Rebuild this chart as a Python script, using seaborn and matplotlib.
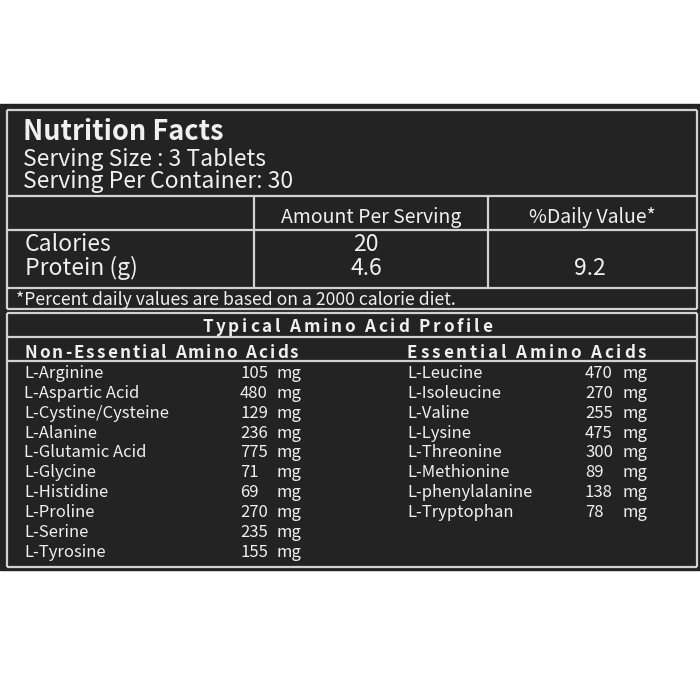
import numpy as np
import pandas as pd
import matplotlib
matplotlib.use("Agg")
import matplotlib.pyplot as plt
import seaborn as sns

# label contents
title = "Nutrition Facts"
serving_size = "Serving Size : 3 Tablets"
serving_per = "Serving Per Container: 30"
col_headers = ["Amount Per Serving", "%Daily Value*"]
nutrients = ["Calories", "Protein (g)"]
amounts = ["20", "4.6"]
daily_values = ["", "9.2"]
footnote = "*Percent daily values are based on a 2000 calorie diet."
profile_title = "Typical Amino Acid Profile"

nonessential_names = ["L-Arginine", "L-Aspartic Acid", "L-Cystine/Cysteine", "L-Alanine",
                      "L-Glutamic Acid", "L-Glycine", "L-Histidine", "L-Proline",
                      "L-Serine", "L-Tyrosine"]
nonessential_mg = [105, 480, 129, 236, 775, 71, 69, 270, 235, 155]
essential_names = ["L-Leucine", "L-Isoleucine", "L-Valine", "L-Lysine", "L-Threonine",
                   "L-Methionine", "L-phenylalanine", "L-Tryptophan"]
essential_mg = [470, 270, 255, 475, 300, 89, 138, 78]

nonessential = pd.DataFrame({"name": nonessential_names, "mg": nonessential_mg})
essential = pd.DataFrame({"name": essential_names, "mg": essential_mg})

sns.set_theme(style="white")
plt.rcParams["font.family"] = ["Noto Sans CJK SC", "DejaVu Sans"]

bg = "#232323"
fg = "#f0f0f0"
line_c = "#d2d2d2"

fig = plt.figure(figsize=(7, 7), dpi=100)
ax = fig.add_axes([0, 0, 1, 1])
ax.set_xlim(0, 700)
ax.set_ylim(700, 0)
ax.axis("off")
fig.patch.set_facecolor("white")

# black panel
ax.add_patch(plt.Rectangle((0, 104), 700, 466, color=bg, zorder=0))

lw = 1.6
def hline(y, x0=7, x1=697):
    ax.plot([x0, x1], [y, y], color=line_c, lw=lw, solid_capstyle="butt")

def vline(x, y0, y1):
    ax.plot([x, x], [y0, y1], color=line_c, lw=lw, solid_capstyle="butt")

# top box
hline(110)
hline(196)
hline(230)
hline(288)
hline(309)
vline(7, 110, 309)
vline(697, 110, 309)
vline(254, 196, 288)
vline(488, 196, 288)

# amino box
hline(313)
hline(337)
hline(361)
hline(567)
vline(7, 313, 567)
vline(697, 313, 567)

renderer = fig.canvas.get_renderer()

def spaced(x, y, s, size, gap, ha="left"):
    widths = []
    for ch in s:
        t = ax.text(0, 0, ch, fontsize=size, weight="bold")
        widths.append(t.get_window_extent(renderer).width)
        t.remove()
    total = sum(widths) + gap * (len(s) - 1)
    if ha == "center":
        x = x - total / 2
    for ch, w in zip(s, widths):
        ax.text(x, y, ch, fontsize=size, weight="bold", color=fg, va="baseline", ha="left")
        x += w + gap

# header texts
ax.text(23, 140, title, fontsize=19.5, weight="bold", color=fg, va="baseline")
ax.text(23, 166, serving_size, fontsize=16.5, color=fg, va="baseline")
ax.text(23, 188, serving_per, fontsize=16.5, color=fg, va="baseline")

ax.text(371, 223, col_headers[0], fontsize=14, color=fg, ha="center", va="baseline")
ax.text(592, 223, col_headers[1], fontsize=14, color=fg, ha="center", va="baseline")

for i, (n, a, d) in enumerate(zip(nutrients, amounts, daily_values)):
    y = 251 + i * 24
    ax.text(25, y, n, fontsize=16.5, color=fg, va="baseline")
    ax.text(366, y, a, fontsize=16.5, color=fg, ha="center", va="baseline")
    ax.text(590, y, d, fontsize=16.5, color=fg, ha="center", va="baseline")

ax.text(16, 305, footnote, fontsize=12.7, color=fg, va="baseline")

# amino acid profile
spaced(347, 332, profile_title, 12.3, 2.8, ha="center")
spaced(24, 358, "Non-Essential Amino Acids", 12.3, 2.1)
spaced(407, 358, "Essential Amino Acids", 12.3, 2.8)

step = 19.85
for i, row in nonessential.iterrows():
    y = 378 + i * step
    ax.text(24, y, row["name"], fontsize=12, color=fg, va="baseline")
    ax.text(240, y, str(row["mg"]), fontsize=12, color=fg, va="baseline")
    ax.text(276, y, "mg", fontsize=12, color=fg, va="baseline")

for i, row in essential.iterrows():
    y = 378 + i * step
    ax.text(407, y, row["name"], fontsize=12, color=fg, va="baseline")
    ax.text(585, y, str(row["mg"]), fontsize=12, color=fg, va="baseline")
    ax.text(622, y, "mg", fontsize=12, color=fg, va="baseline")

fig.savefig("out.png", dpi=100, facecolor="white")
